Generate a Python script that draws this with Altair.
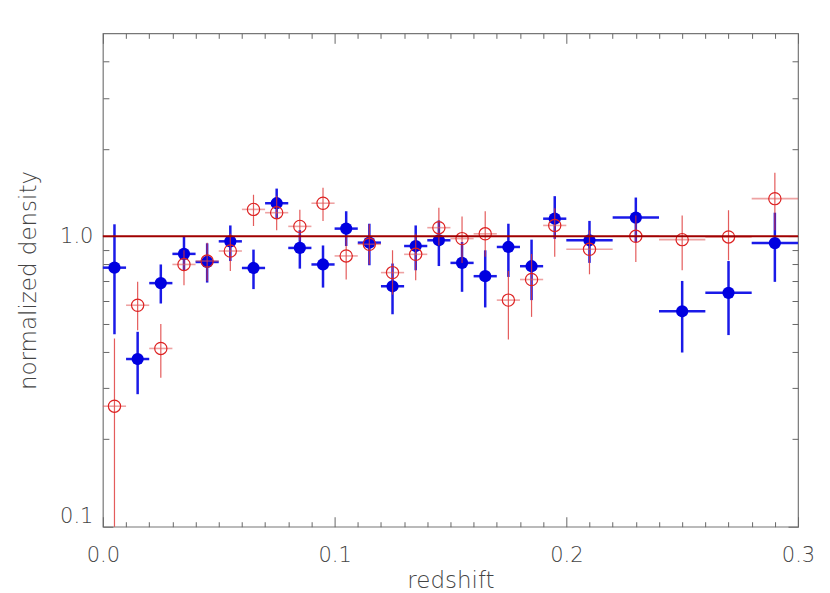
import altair as alt
import pandas as pd

# ---- data ----
z = [0.005, 0.015, 0.025, 0.035, 0.045, 0.055, 0.065, 0.075, 0.085, 0.095,
     0.105, 0.115, 0.125, 0.135, 0.145, 0.155, 0.165, 0.175, 0.185, 0.195,
     0.21, 0.23, 0.25, 0.27, 0.29]
dz = [0.005] * 20 + [0.01] * 5

blue_y = [0.78, 0.378, 0.69, 0.87, 0.816, 0.961, 0.778, 1.30, 0.912, 0.80,
          1.063, 0.951, 0.673, 0.926, 0.969, 0.81, 0.729, 0.919, 0.789, 1.15,
          0.969, 1.16, 0.552, 0.639, 0.948]
blue_lo = [0.46, 0.286, 0.587, 0.764, 0.693, 0.822, 0.658, 1.15, 0.774, 0.666,
           0.926, 0.795, 0.539, 0.764, 0.79, 0.644, 0.569, 0.725, 0.603, 0.98,
           0.81, 0.956, 0.398, 0.457, 0.697]
blue_hi = [1.10, 0.469, 0.80, 0.995, 0.946, 1.09, 0.90, 1.46, 1.05, 0.93,
           1.22, 1.105, 0.806, 1.09, 1.135, 0.956, 0.895, 1.105, 0.974, 1.375,
           1.13, 1.36, 0.702, 0.822, 1.206]

red_y = [0.26, 0.579, 0.411, 0.80, 0.822, 0.89, 1.238, 1.206, 1.082, 1.30,
         0.856, 0.939, 0.75, 0.867, 1.071, 0.982, 1.02, 0.603, 0.71, 1.09,
         0.902, 1.0, 0.974, 0.995, 1.348]
red_lo = [0.05, 0.475, 0.326, 0.679, 0.70, 0.76, 1.085, 1.05, 0.968, 1.13,
          0.71, 0.80, 0.63, 0.706, 0.93, 0.81, 0.85, 0.441, 0.528, 0.85,
          0.74, 0.816, 0.764, 0.827, 1.05]
red_hi = [0.445, 0.697, 0.499, 0.895, 0.95, 1.02, 1.39, 1.38, 1.235, 1.47,
          0.995, 1.10, 0.895, 1.02, 1.255, 1.17, 1.22, 0.76, 0.87, 1.25,
          1.05, 1.18, 1.18, 1.23, 1.655]

ref_level = [1.0]

x_major = [0.0, 0.1, 0.2, 0.3]
x_minor = [round(i * 0.01, 2) for i in range(31) if i % 10 != 0]
y_major = [0.1, 1.0]
y_minor = [0.2, 0.3, 0.4, 0.5, 0.6, 0.7, 0.8, 0.9, 2, 3, 4]

blue = pd.DataFrame({"z": z, "zlo": [a - b for a, b in zip(z, dz)],
                     "zhi": [a + b for a, b in zip(z, dz)],
                     "y": blue_y, "ylo": blue_lo, "yhi": blue_hi})
red = pd.DataFrame({"z": z, "zlo": [a - b for a, b in zip(z, dz)],
                    "zhi": [a + b for a, b in zip(z, dz)],
                    "y": red_y, "ylo": red_lo, "yhi": red_hi})
ref = pd.DataFrame({"v": ref_level})

FONT = "DejaVu Sans"
TXT = "#444444"
TICK = "#666666"
xs = alt.Scale(domain=[0, 0.3], nice=False, zero=False)
ys = alt.Scale(type="log", domain=[0.1, 5], nice=False)

common = dict(domain=False, grid=False, tickColor=TICK, tickWidth=1)

x_bot_major = alt.Axis(orient="bottom", values=x_major, format=".1f", tickSize=10, offset=-10,
                       labelPadding=18, labelFlush=False, labelFont=FONT, labelFontSize=21,
                       labelColor=TXT, labelFontWeight=200,
                       title="redshift", titleFont=FONT, titleFontSize=23, titleFontWeight=200,
                       titleColor=TXT, titlePadding=4, **common)
x_bot_minor = alt.Axis(orient="bottom", values=x_minor, tickSize=5, offset=-5, labels=False,
                       title=None, **common)
x_top_major = alt.Axis(orient="top", values=x_major, tickSize=10, offset=-10, labels=False,
                       title=None, **common)
x_top_minor = alt.Axis(orient="top", values=x_minor, tickSize=5, offset=-5, labels=False,
                       title=None, **common)
y_left_major = alt.Axis(orient="left", values=y_major, format=".1f", tickSize=10, offset=-10,
                        labelPadding=10, labelFlush=True, labelFont=FONT, labelFontSize=21,
                        labelColor=TXT, labelFontWeight=200,
                        title="normalized density", titleFont=FONT, titleFontSize=23,
                        titleFontWeight=200, titleColor=TXT, titlePadding=19, **common)
y_left_minor = alt.Axis(orient="left", values=y_minor, tickSize=6, offset=-6, labels=False,
                        title=None, **common)
y_right_major = alt.Axis(orient="right", values=y_major, tickSize=10, offset=-10, labels=False,
                         title=None, **common)
y_right_minor = alt.Axis(orient="right", values=y_minor, tickSize=6, offset=-6, labels=False,
                         title=None, **common)

BLUE = "#0000e0"
BLUE_BAR = "#1a1ae8"
RED = "#dd2222"

b_v = alt.Chart(blue).mark_rule(color=BLUE_BAR, strokeWidth=2.5).encode(
    x=alt.X("z:Q", scale=xs, axis=x_bot_major),
    y=alt.Y("ylo:Q", scale=ys, axis=y_left_major), y2="yhi:Q")
b_h = alt.Chart(blue).mark_rule(color=BLUE_BAR, strokeWidth=2.5).encode(
    x=alt.X("zlo:Q", scale=xs, axis=x_bot_minor), x2="zhi:Q",
    y=alt.Y("y:Q", scale=ys, axis=y_left_minor))
b_p = alt.Chart(blue).mark_circle(size=150, color=BLUE, opacity=1).encode(
    x=alt.X("z:Q", scale=xs, axis=x_top_major),
    y=alt.Y("y:Q", scale=ys, axis=y_right_major))
r_v = alt.Chart(red).mark_rule(color="#dd3333", strokeWidth=1.2, opacity=0.8, clip=True).encode(
    x=alt.X("z:Q", scale=xs, axis=x_top_minor),
    y=alt.Y("ylo:Q", scale=ys, axis=y_right_minor), y2="yhi:Q")
r_h = alt.Chart(red).mark_rule(color="#e05555", strokeWidth=1.6, opacity=0.55).encode(
    x=alt.X("zlo:Q", scale=xs, axis=None), x2="zhi:Q",
    y=alt.Y("y:Q", scale=ys, axis=None))
r_p = alt.Chart(red).mark_point(shape="circle", filled=False, size=150, color=RED,
                                strokeWidth=1.2, opacity=1).encode(
    x=alt.X("z:Q", scale=xs, axis=None),
    y=alt.Y("y:Q", scale=ys, axis=None))
line = alt.Chart(ref).mark_rule(color="#a00000", strokeWidth=2).encode(
    y=alt.Y("v:Q", scale=ys, axis=None))

chart = alt.layer(b_v, b_h, b_p, r_v, r_h, r_p, line).resolve_axis(
    x="independent", y="independent"
).properties(
    width=696, height=494,
    autosize=alt.AutoSizeParams(type="none"),
    padding={"left": 95, "top": 25, "right": 24, "bottom": 70},
).configure_view(stroke="#777777", strokeWidth=1.2)

chart.save("out.html", embed_options={"renderer": "svg", "actions": False})
